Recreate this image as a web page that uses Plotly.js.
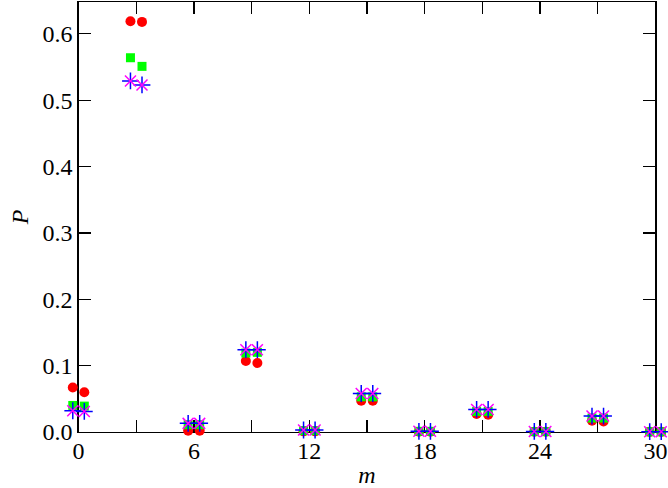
<!DOCTYPE html>
<html>
<head>
<meta charset="utf-8">
<script src="https://cdn.plot.ly/plotly-3.0.1.min.js"></script>
<style>
html,body{margin:0;padding:0;background:#fff;}
#chart{width:668px;height:488px;}
</style>
</head>
<body>
<div id="chart"></div>
<script>
// x positions: each m has two points (left/right of the integer)
const xPos = [-0.3,0.3, 2.7,3.3, 5.7,6.3, 8.7,9.3, 11.7,12.3, 14.7,15.3, 17.7,18.3, 20.7,21.3, 23.7,24.3, 26.7,27.3, 29.7,30.3];

const redVals   = [0.067,0.060, 0.619,0.618, 0.002,0.002, 0.107,0.104, 0.001,0.001, 0.047,0.047, 0.0005,0.0005, 0.027,0.026, 0.0003,0.0003, 0.017,0.016, 0.0002,0.0002];
const greenVals = [0.040,0.039, 0.564,0.551, 0.011,0.011, 0.119,0.120, 0.002,0.002, 0.053,0.053, 0.001,0.001, 0.031,0.031, 0.0005,0.0005, 0.021,0.021, 0.0003,0.0003];
const blueVals  = [0.032,0.031, 0.529,0.523, 0.013,0.013, 0.124,0.124, 0.003,0.003, 0.058,0.058, 0.001,0.001, 0.034,0.034, 0.0008,0.0008, 0.024,0.024, 0.0005,0.0005];
const magVals   = [0.032,0.031, 0.529,0.523, 0.013,0.013, 0.124,0.124, 0.003,0.003, 0.058,0.058, 0.001,0.001, 0.034,0.034, 0.0008,0.0008, 0.024,0.024, 0.0005,0.0005];

const xTickVals = [0,3,6,9,12,15,18,21,24,27,30];
const xTickText = ['0','','6','','12','','18','','24','','30'];
const yTickVals = [0,0.1,0.2,0.3,0.4,0.5,0.6];
const yTickText = ['0.0','0.1','0.2','0.3','0.4','0.5','0.6'];

const xFrame = [0,30];        // visible axis range
const xData  = [-0.6,30.6];   // wider range so edge points are not hidden
const dSpan = xData[1]-xData[0];
const xDomain = [(xFrame[0]-xData[0])/dSpan, (xFrame[1]-xData[0])/dSpan];

const font = {family:'"Liberation Serif", "DejaVu Serif", serif', size:24, color:'#000'};

function tr(vals, marker){
  return {x:xPos, y:vals, xaxis:'x2', yaxis:'y', type:'scatter', mode:'markers',
          cliponaxis:false, marker:marker};
}
const traces = [
  // empty trace so the framed axis subplot exists
  {x:[], y:[], xaxis:'x', yaxis:'y', type:'scatter', mode:'markers', hoverinfo:'skip'},
  tr(redVals,   {symbol:'circle', size:10, color:'#ff0000'}),
  tr(greenVals, {symbol:'square', size:9, color:'#00ff00'}),
  tr(blueVals,  {symbol:'cross-thin', size:12, color:'#0000ff', line:{color:'#0000ff', width:1.5}}),
  tr(magVals,   {symbol:'x-thin', size:11, color:'#ff00ff', line:{color:'#ff00ff', width:1.5}})
];

const layout = {
  width:668, height:488,
  margin:{l:67, r:1, t:2, b:56},
  paper_bgcolor:'#fff', plot_bgcolor:'rgba(0,0,0,0)',
  showlegend:false,
  font:font,
  xaxis:{
    domain:xDomain, anchor:'y',
    range:xFrame, tickvals:xTickVals, ticktext:xTickText,
    ticks:'inside', ticklen:12, tickwidth:1.2, tickcolor:'#000',
    showline:true, linecolor:'#000', linewidth:1.3, mirror:'ticks',
    showgrid:false, zeroline:false,
    tickfont:font, ticklabelstandoff:-3,
    title:{text:'<i>m</i>', font:font, standoff:10}
  },
  xaxis2:{
    domain:[0,1], anchor:'y', range:xData, visible:false,
    showgrid:false, zeroline:false
  },
  yaxis:{
    anchor:'x',
    range:[0,0.648], tickvals:yTickVals, ticktext:yTickText,
    ticks:'inside', ticklen:12, tickwidth:1.2, tickcolor:'#000',
    showline:true, linecolor:'#000', linewidth:1.3, mirror:'ticks',
    showgrid:false, zeroline:false,
    tickfont:font,
    title:{text:'<i>P</i>', font:font, standoff:7}
  }
};

Plotly.newPlot('chart', traces, layout, {staticPlot:true, displayModeBar:false});
</script>
</body>
</html>
